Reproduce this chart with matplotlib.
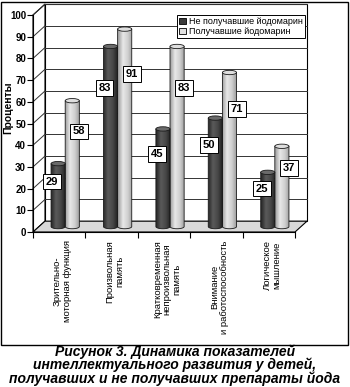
import numpy as np
import matplotlib
matplotlib.use("Agg")
import matplotlib.pyplot as plt
from matplotlib.patches import Polygon, Ellipse, PathPatch, Patch, Rectangle
from matplotlib.path import Path
from matplotlib.colors import LinearSegmentedColormap

plt.rcParams["font.family"] = ["Liberation Sans", "DejaVu Sans"]

# ── data ─────────────────────────────────────────────────────────────────────
CATEGORIES = [
    "Зрительно-\nмоторная функция",
    "Произвольная\nпамять",
    "Кратковременная\nнепроизвольная\nпамять",
    "Внимание\nи работоспособность",
    "Логическое\nмышление",
]
NOT_RECEIVED = [29, 83, 45, 50, 25]
RECEIVED = [58, 91, 83, 71, 37]
SERIES_NAMES = ["Не получавшие йодомарин", "Получавшие йодомарин"]
Y_TICKS = list(range(0, 101, 10))
CAPTION = ("Рисунок 3. Динамика показателей\n"
           "интеллектуального развития у детей,\n"
           "получавших и не получавших препараты йода")

# ── geometry / style ─────────────────────────────────────────────────────────
W, H = 350, 387
DX, DY = 0.229, 5.0          # depth offset in data units
BAR_W = 0.27
ELL_H = 1.0                  # half height of cylinder cap
DARK = ["#262626", "#5a5a5a", "#474747", "#202020"]
LIGHT = ["#9c9c9c", "#e8e8e8", "#cfcfcf", "#9a9a9a"]
DARK_TOP, LIGHT_TOP = "#6a6a6a", "#dedede"
N = len(CATEGORIES)

fig = plt.figure(figsize=(W / 100, H / 100), dpi=100)
ax = fig.add_axes([33 / W, 1 - 232 / H, 262 / W, 217 / H])


def cylinder(xc, val, colours, top_colour):
    x0, x1 = xc - BAR_W / 2, xc + BAR_W / 2
    base, top = DY / 2, val + DY / 2
    t = np.linspace(np.pi, 2 * np.pi, 40)
    verts = [(x0, top), (x0, base)]
    verts += list(zip(xc + BAR_W / 2 * np.cos(t), base + ELL_H * np.sin(t)))
    verts += [(x1, top), (x0, top)]
    path = Path(verts)
    ax.add_patch(PathPatch(path, fc="none", ec="#1a1a1a", lw=0.6, zorder=5))
    cmap = LinearSegmentedColormap.from_list("c", colours)
    grad = np.linspace(0, 1, 64).reshape(1, -1)
    im = ax.imshow(grad, extent=(x0, x1, base - ELL_H, top), cmap=cmap,
                   aspect="auto", zorder=4, interpolation="bilinear")
    im.set_clip_path(PathPatch(path, transform=ax.transData))
    ax.add_patch(Ellipse((xc, top), BAR_W, 2 * ELL_H, fc=top_colour,
                         ec="#1a1a1a", lw=0.6, zorder=6))


# back wall, left wall, floor
ax.add_patch(Polygon([(DX, DY), (N + DX, DY), (N + DX, 100 + DY), (DX, 100 + DY)],
                     closed=True, fc="white", ec="black", lw=0.8, zorder=1, clip_on=False))
ax.add_patch(Polygon([(0, 0), (DX, DY), (DX, 100 + DY), (0, 100)],
                     closed=True, fc="white", ec="black", lw=0.8, zorder=1, clip_on=False))
ax.add_patch(Polygon([(0, 0), (N, 0), (N + DX, DY), (DX, DY)],
                     closed=True, fc="#d9d9d9", ec="black", lw=0.8, zorder=2, clip_on=False))
for v in Y_TICKS[1:]:
    ax.plot([DX, N + DX], [v + DY, v + DY], color="#333333", lw=0.7, zorder=1.5, clip_on=False)
    ax.plot([0, DX], [v, v + DY], color="#333333", lw=0.7, zorder=1.5, clip_on=False)

# cylinders + value labels
for i in range(N):
    xd = i + 0.5 - BAR_W / 2 + DX / 2
    xl = i + 0.5 + BAR_W / 2 + DX / 2
    cylinder(xd, NOT_RECEIVED[i], DARK, DARK_TOP)
    cylinder(xl, RECEIVED[i], LIGHT, LIGHT_TOP)
    box = dict(boxstyle="square,pad=0.25", fc="white", ec="black", lw=0.7)
    ax.text(xd - BAR_W / 2 + 0.02, NOT_RECEIVED[i] * 0.8, str(NOT_RECEIVED[i]),
            ha="center", va="center", fontsize=8, fontweight="bold", bbox=box, zorder=8)
    ax.text(xl + BAR_W / 2, RECEIVED[i] * 0.8, str(RECEIVED[i]),
            ha="center", va="center", fontsize=8, fontweight="bold", bbox=box, zorder=8)

# axes
ax.set_xlim(0, N)
ax.set_ylim(0, 100)
for s in ("top", "right"):
    ax.spines[s].set_visible(False)
for s in ("left", "bottom"):
    ax.spines[s].set_linewidth(0.8)
    ax.spines[s].set_zorder(3)
ax.set_yticks(Y_TICKS)
ax.set_yticklabels([str(v) for v in Y_TICKS], fontsize=7, fontweight="bold")
ax.set_xticks(range(N + 1))
ax.set_xticklabels([])
ax.tick_params(axis="y", length=4, width=0.8, pad=1)
ax.tick_params(axis="x", length=4, width=0.8)
ax.set_ylabel("Проценты", fontsize=7.5, fontweight="bold")
ax.yaxis.set_label_coords(-20 / 262, 124 / 217)

for i, name in enumerate(CATEGORIES):
    ax.annotate(name, xy=(i + 0.5 + DX / 4, 0), xytext=(0, -6),
                textcoords="offset points", rotation=90, ha="center", va="top",
                multialignment="center", fontsize=6.8, linespacing=1.1)

handles = [Patch(fc="#3a3a3a", ec="black", lw=0.6), Patch(fc="#e0e0e0", ec="black", lw=0.6)]
leg = ax.legend(handles, SERIES_NAMES, loc="upper left",
                bbox_to_anchor=(177 / W, 1 - 15 / H), bbox_transform=fig.transFigure,
                borderaxespad=0, fontsize=6.5, handlelength=0.7, handleheight=0.7,
                handletextpad=0.4, borderpad=0.25, labelspacing=0.1, fancybox=False,
                framealpha=1, edgecolor="black")
leg.get_frame().set_linewidth(0.7)
leg.set_zorder(10)

# outer frame + caption
fig.add_artist(Rectangle((1 / W, 1 - 345 / H), 347 / W, 343 / H, transform=fig.transFigure,
                         fill=False, ec="black", lw=1.0))
fig.text(0.5, 1 - 365 / H, CAPTION, ha="center", va="center", fontsize=10,
         fontweight="bold", fontstyle="italic", linespacing=0.93)

fig.savefig("out.png", dpi=100)
